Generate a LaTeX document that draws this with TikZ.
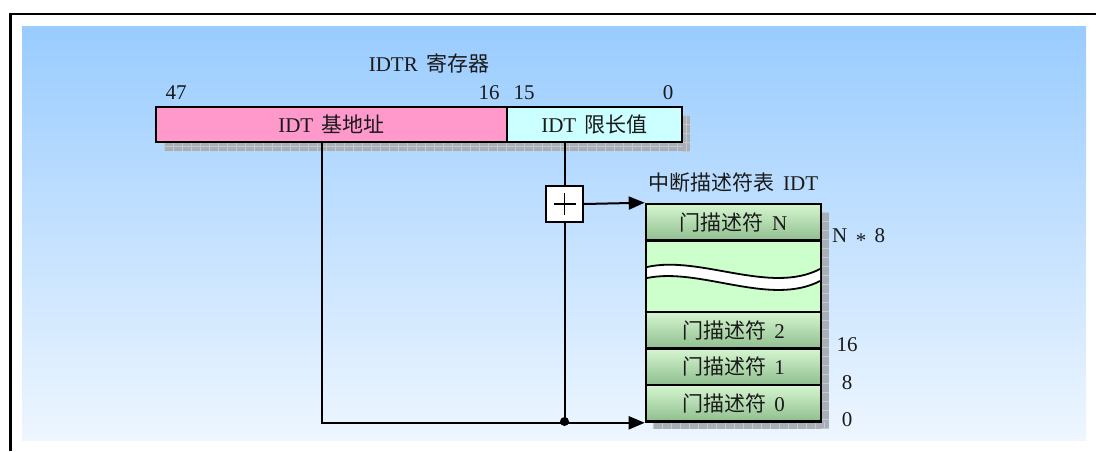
\documentclass[tikz,border=0pt]{standalone}
\usepackage{fontspec}
\setmainfont{Liberation Serif}[WordSpace=1.6]
\newfontfamily\cjk{Noto Sans CJK SC}
\newcommand\zhtext[1]{{\cjk #1}}
\usetikzlibrary{arrows.meta}
\definecolor{bgtop}{HTML}{99CCFF}
\definecolor{bgmid}{HTML}{C2DFFC}
\definecolor{bgbot}{HTML}{EEF6FF}
\definecolor{pinkfill}{HTML}{FF99CC}
\definecolor{cyanfill}{HTML}{CCFFFF}
\definecolor{rowtop}{HTML}{D6F6D0}
\definecolor{rowbot}{HTML}{8FBE8F}
\definecolor{gapfill}{HTML}{CCFFCC}
\definecolor{shadowfill}{HTML}{A9AFB6}
\definecolor{shadowline}{HTML}{C6CACE}
\definecolor{txt}{HTML}{1A1A1A}
\begin{document}
\begin{tikzpicture}[x=1pt,y=-1pt,
  font=\fontsize{21}{25}\selectfont,
  every node/.style={text=txt},
  regbox/.style={draw=black,line width=2.6pt,minimum height=35pt,inner sep=0pt},
  rowbox/.style={draw=black,line width=2.6pt,minimum width=175pt,minimum height=36.5pt,inner sep=0pt,top color=rowtop,bottom color=rowbot},
  gapbox/.style={draw=black,line width=2.6pt,minimum width=175pt,minimum height=71.5pt,inner sep=0pt,fill=gapfill},
  lbl/.style={inner sep=0pt},
  conn/.style={line width=2pt,draw=black},
  arr/.style={conn,-{Triangle[length=16pt,width=13pt]}},
  shadowstrip/.style={fill=shadowfill},
  grid/.style={draw=shadowline,line width=0.6pt}
]
\useasboundingbox (0,0) rectangle (1096,451);
% background
\shade[top color=bgtop,middle color=bgmid,bottom color=bgbot] (22,26) rectangle (1086,440);
% frame (top and left edges)
\draw[line width=2.8pt] (10.5,451) -- (10.5,14) -- (1096,14);

% register shadow
\fill[shadowstrip] (164,115) rectangle (690,151);
\foreach \x in {164,173,...,690} \draw[grid] (\x,142) -- (\x,151);
\draw[grid] (164,146.5) -- (682,146.5);
\foreach \y in {115,124,...,151} \draw[grid] (682,\y) -- (690,\y);
\draw[grid] (686,115) -- (686,142);

% table shadow
\fill[shadowstrip] (653,212) rectangle (829,429);
\foreach \x in {653,662,...,829} \draw[grid] (\x,421.5) -- (\x,429);
\foreach \y in {212,221,...,429} \draw[grid] (821,\y) -- (829,\y);

% register boxes
\node[regbox,fill=pinkfill,minimum width=351pt] (base) at (331.5,124.5) {IDT \zhtext{基地址}};
\node[regbox,fill=cyanfill,minimum width=175pt] (limit) at (594.5,124.5) {IDT \zhtext{限长值}};

% register labels
\node[lbl] (regtitle) at (429,63.5) {IDTR \zhtext{寄存器}};
\node[lbl] (b47) at (176,93) {47};
\node[lbl] (b16) at (489,93) {16};
\node[lbl] (b15) at (524,93) {15};
\node[lbl] (b0) at (668,93) {0};

% IDT table
\node[gapbox] (gap) at (733.5,276.25) {};
\node[rowbox] (rN) at (733.5,222.25) {\zhtext{门描述符} N};
\node[rowbox] (r2) at (733.5,330.25) {\zhtext{门描述符} 2};
\node[rowbox] (r1) at (733.5,366.75) {\zhtext{门描述符} 1};
\node[rowbox] (r0) at (733.5,403.25) {\zhtext{门描述符} 0};
% wave break
\fill[white] (647,267) .. controls (700,255) and (770,295) .. (820,269)
  -- (820,281) .. controls (770,307) and (700,267) .. (647,278) -- cycle;
\draw[line width=1.8pt] (647,267) .. controls (700,255) and (770,295) .. (820,269);
\draw[line width=1.8pt] (647,278) .. controls (700,267) and (770,307) .. (820,281);

% table labels
\node[lbl] (tabtitle) at (733.5,183) {\zhtext{中断描述符表} IDT};
\node[lbl,anchor=west] (lN8) at (832,238) {N \raisebox{-0.22em}{*} 8};
\node[lbl] (l16) at (847,345) {16};
\node[lbl] (l8) at (847,383) {8};
\node[lbl] (l0) at (847,419.5) {0};

% adder
\node[draw=black,line width=2pt,fill=white,minimum width=37pt,minimum height=36pt,inner sep=0pt] (plus) at (564.5,204) {};
\draw[line width=1.4pt] ([xshift=-11pt]plus.center) -- ([xshift=11pt]plus.center);
\draw[line width=1.4pt] ([yshift=-11pt]plus.center) -- ([yshift=11pt]plus.center);

% connectors
\coordinate (dot) at (564.5,421.5);
\draw[arr] ([xshift=-9.5pt]base.south) |- (r0.south west);
\draw[conn] ([xshift=-30pt]limit.south) -- (plus.north);
\draw[conn] (plus.south) -- (dot);
\draw[arr] (plus.east) -- (rN.north west);
\fill (dot) circle (4.5pt);
\end{tikzpicture}
\end{document}
